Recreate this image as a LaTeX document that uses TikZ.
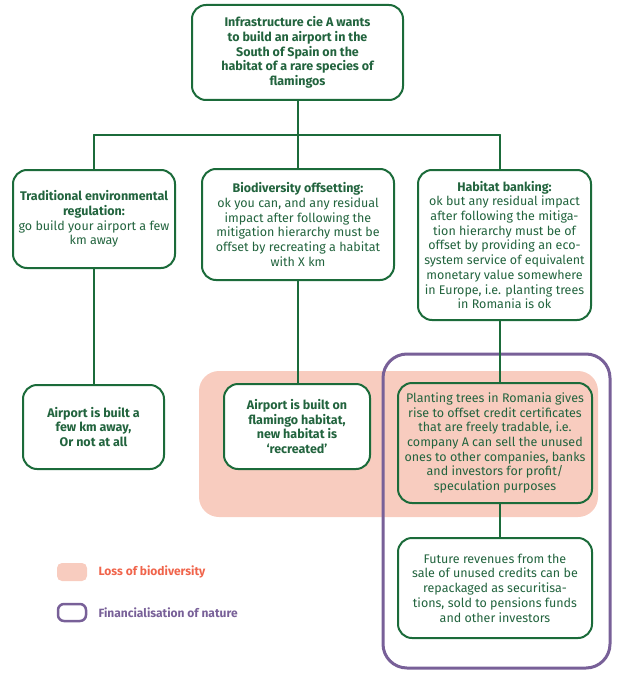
\documentclass[tikz,border=0pt]{standalone}
\usepackage{fontspec}
\setmainfont{Fira Sans}
\definecolor{boxgreen}{RGB}{27,107,58}
\definecolor{txtgreen}{RGB}{34,100,62}
\definecolor{losspink}{RGB}{248,204,191}
\definecolor{losstext}{RGB}{240,100,75}
\definecolor{finpurple}{RGB}{120,96,152}
\begin{document}
\begin{tikzpicture}[x=1pt,y=-1pt,line join=round,line cap=round,
	font=\fontsize{12.5}{14.7}\selectfont,
	box/.style={draw=boxgreen,line width=2pt,rounded corners=14pt,fill=white,text=txtgreen,align=center,inner sep=0pt},
	link/.style={draw=boxgreen,line width=2pt}]
	\useasboundingbox (0,0) rectangle (622,674);
	% shaded areas
	\fill[losspink,rounded corners=20pt] (199,371) rectangle (598,517);
	\draw[finpurple,line width=3pt,rounded corners=24pt] (383,354) rectangle (610,668);
	% boxes
	\node[box,minimum width=211,minimum height=95] (top) at (297.5,52.5)
		{\bfseries Infrastructure cie A wants\\\bfseries to build an airport in the\\\bfseries South of Spain on the\\\bfseries habitat of a rare species of\\\bfseries flamingos};
	\node[box,minimum width=162,minimum height=98] (trad) at (94,219)
		{\bfseries Traditional environmental\\\bfseries regulation:\\go build your airport a few\\km away};
	\node[box,minimum width=192,minimum height=111] (offset) at (298,224.5)
		{\bfseries Biodiversity offsetting:\\ok you can, and any residual\\impact after following the\\mitigation hierarchy must be\\offset by recreating a habitat\\with X km};
	\node[box,minimum width=173,minimum height=150] (bank) at (504.5,245)
		{\bfseries Habitat banking:\\ok but any residual impact\\after following the mitiga-\\tion hierarchy must be of\\offset by providing an eco-\\system service of equivalent\\monetary value somewhere\\in Europe, i.e. planting trees\\in Romania is ok};
	\node[box,minimum width=141,minimum height=84] (away) at (93.5,427)
		{\bfseries Airport is built a\\\bfseries few km away,\\\bfseries Or not at all};
	\node[box,minimum width=146,minimum height=85] (builton) at (297,426.5)
		{\bfseries Airport is built on\\\bfseries flamingo habitat,\\\bfseries new habitat is\\\bfseries `recreated'};
	\node[box,fill=losspink,minimum width=194,minimum height=120] (plant) at (495,443)
		{Planting trees in Romania gives\\rise to offset credit certificates\\that are freely tradable, i.e.\\company A can sell the unused\\ones to other companies, banks\\and investors for profit/\\speculation purposes};
	\node[box,minimum width=194,minimum height=100] (future) at (495,588)
		{Future revenues from the\\sale of unused credits can be\\repackaged as securitisa-\\tions, sold to pensions funds\\and other investors};
	% connectors
	\path (297.5,135) coordinate (hub) (500,135) coordinate (J);
	\draw[link] (top.south) -- (hub) (trad.north |- hub) -- (J);
	\draw[link] (trad.north |- hub) -- (trad.north) (offset.north |- hub) -- (offset.north) (J) -- (J |- bank.north);
	\draw[link] (trad.south) -- (trad.south |- away.north) (offset.south) -- (offset.south |- builton.north);
	\draw[link] (J |- bank.south) -- (J |- plant.north) (J |- plant.south) -- (J |- future.north);
	% legend
	\fill[losspink,rounded corners=5pt] (57,563) rectangle (87,581);
	\node[anchor=west,text=losstext,font=\fontsize{12}{13}\selectfont\bfseries] (losskey) at (95,572) {Loss of biodiversity};
	\draw[finpurple,line width=2.5pt,rounded corners=6pt] (58,604) rectangle (86,621);
	\node[anchor=west,text=finpurple,font=\fontsize{12}{13}\selectfont\bfseries] (finkey) at (95,612.5) {Financialisation of nature};
\end{tikzpicture}
\end{document}
